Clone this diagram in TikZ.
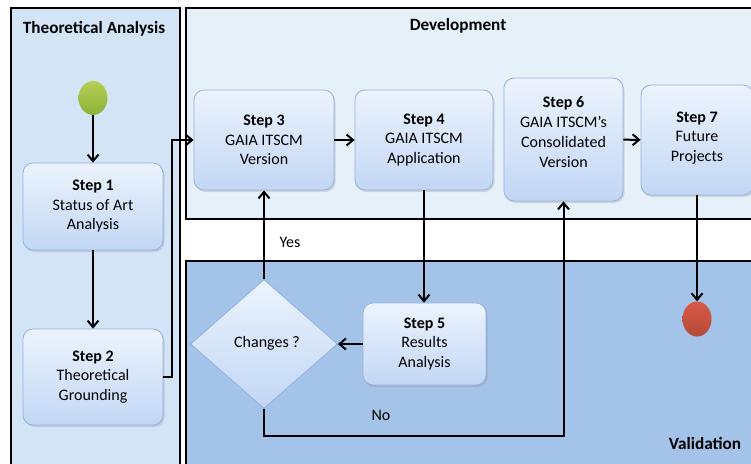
\documentclass[tikz,border=0pt]{standalone}
\usepackage{fontspec}
\setmainfont{Carlito}
\usetikzlibrary{arrows.meta,shapes.geometric,shadows}
\definecolor{thfill}{HTML}{D4E4F7}
\definecolor{devfill}{HTML}{E6F0F8}
\definecolor{valfill}{HTML}{A4C3E9}
\definecolor{boxtop}{HTML}{ECF3FD}
\definecolor{boxbot}{HTML}{C2D7F5}
\definecolor{boxborder}{HTML}{94B2DE}
\definecolor{greentop}{HTML}{B5CF55}
\definecolor{greenbot}{HTML}{8DB038}
\definecolor{redtop}{HTML}{D95A48}
\definecolor{redbot}{HTML}{B54A38}
\tikzset{
  panel/.style={draw=black, line width=2pt},
  paneltitle/.style={font=\fontsize{17.2}{20}\selectfont\bfseries, inner sep=0pt},
  stepbox/.style={rectangle, rounded corners=10pt, draw=boxborder, line width=0.8pt,
    top color=boxtop, bottom color=boxbot, align=center, inner sep=0pt,
    drop shadow={opacity=0.25, shadow xshift=1.5pt, shadow yshift=-2pt},
    font=\fontsize{16}{19.5}\selectfont},
  decision/.style={diamond, draw=boxborder, line width=0.8pt, top color=boxtop, bottom color=boxbot,
    inner sep=0pt, minimum width=147pt, minimum height=129pt, aspect=1.14,
    font=\fontsize{16}{19.5}\selectfont},
  lbl/.style={font=\fontsize{16}{19.5}\selectfont, inner sep=0pt},
  conn/.style={draw=black, line width=2pt, -{Straight Barb[length=6.5pt,width=11pt]}},
}
\begin{document}
\begin{tikzpicture}[x=1pt,y=-1pt]
\useasboundingbox (0,0) rectangle (751,463);
\fill[white] (0,0) rectangle (751,463);
\begin{scope}
\clip (0,0) rectangle (751,463);
\draw[panel, fill=thfill] (11,8) rectangle (180,475);
\draw[panel, fill=devfill] (186,8) rectangle (765,219);
\draw[panel, fill=valfill] (186,261) rectangle (765,475);
\end{scope}
\node[paneltitle] (tta) at (94,29) {Theoretical Analysis};
\node[paneltitle] (tdev) at (458,26) {Development};
\node[paneltitle] (tval) at (705,444) {Validation};

\node[ellipse, minimum width=29pt, minimum height=34pt, inner sep=0pt, top color=greentop, bottom color=greenbot] (start) at (93,98) {};
\node[ellipse, minimum width=29pt, minimum height=35pt, inner sep=0pt, top color=redtop, bottom color=redbot] (endc) at (697,319) {};

\node[stepbox, minimum width=140pt, minimum height=87pt] (s1) at (93,206.5) {\textbf{Step 1}\\Status of Art\\Analysis};
\node[stepbox, minimum width=140pt, minimum height=96pt] (s2) at (93,377) {\textbf{Step 2}\\Theoretical\\Grounding};
\node[stepbox, minimum width=140pt, minimum height=100pt] (s3) at (264,140) {\textbf{Step 3}\\GAIA ITSCM\\Version};
\node[stepbox, minimum width=138pt, minimum height=100pt] (s4) at (424,140) {\textbf{Step 4}\\GAIA ITSCM\\Application};
\node[stepbox, minimum width=119pt, minimum height=123pt] (s6) at (563.5,139.5) {\raisebox{1.5pt}[0pt][0pt]{\begin{tabular}{@{}c@{}}\textbf{Step 6}\\[0.5pt]GAIA ITSCM's\\[0.5pt]Consolidated\\[0.5pt]Version\end{tabular}}};
\node[stepbox, minimum width=112pt, minimum height=110pt] (s7) at (697,140) {\raisebox{-2pt}[0pt][0pt]{\begin{tabular}{@{}c@{}}\textbf{Step 7}\\Future\\Projects\end{tabular}}};
\node[stepbox, minimum width=123pt, minimum height=82pt] (s5) at (424.5,344) {\textbf{Step 5}\\Results\\Analysis};
\node[decision] (dia) at (264,344) {\raisebox{4pt}{\hspace{6pt}Changes ?}};

\draw[conn] (start) -- (s1);
\draw[conn] (s1) -- (s2);
\draw[conn] (s2.east) -- ++(9,0) |- (s3.west);
\draw[conn] (s3) -- (s4);
\draw[conn] (s6) -- (s7);
\draw[conn] (s4.south) -- (s4.south |- s5.north);
\draw[conn] (s5.west) -- (dia.east);
\draw[conn] (dia.north) -- (s3.south);
\coordinate (nocorner) at (264,436);
\draw[conn] (dia.south) -- (nocorner) -| (s6.south);
\draw[conn] (s7.south) -- (endc.north);
\node[lbl] (yes) at (290,242) {Yes};
\node[lbl] (no) at (381,415) {No};
\end{tikzpicture}
\end{document}
